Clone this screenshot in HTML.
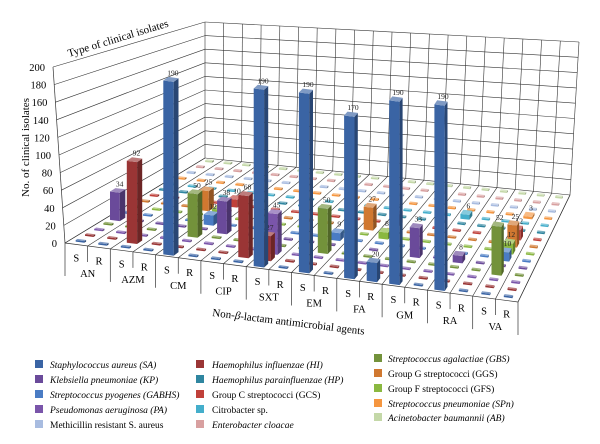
<!DOCTYPE html>
<html><head><meta charset="utf-8"><style>
body{margin:0;background:#fff;}
svg{display:block;font-family:"Liberation Serif",serif;}
</style></head><body>
<svg id="chart" width="600" height="444" viewBox="0 0 600 444" xmlns="http://www.w3.org/2000/svg">
<g id="walls"></g>
<g id="bars"></g>
<g id="labels"></g>
<text font-size="11" transform="translate(29,197) rotate(-90)">No. of clinical isolates</text>
<text font-size="11" transform="translate(69,57) rotate(-17)">Type of clinical isolates</text>
<text font-size="11" transform="translate(212,316) rotate(7)">Non-<tspan font-style="italic">β</tspan>-lactam antimicrobial agents</text>
<g id="legend"></g>
</svg>
<script>
const agents=["AN","AZM","CM","CIP","SXT","EM","FA","GM","RA","VA"];
const yTicks=[0,20,40,60,80,100,120,140,160,180,200];
// series in depth order (front -> back)
const seriesNames=["SA","HI","PA","GBS","KP","GABHS","GFS","GGS","GCS","HP","Citro","SPn","MRSA","Entero","AB"];
const seriesColors=["#3a64a4","#9a3535","#7a55aa","#73923b","#6a4a9a","#4a7cc4","#8ab840","#d07830","#c0403a","#2f86a0","#44aecb","#f59640","#a8bce0","#d8a0a0","#c4d8a8"];
// columns: AN S,AN R,AZM S,AZM R,CM S,CM R,CIP S,CIP R,SXT S,SXT R,EM S,EM R,FA S,FA R,GM S,GM R,RA S,RA R,VA S,VA R
const valSA=[0,0,0,0,190,0,0,0,190,0,190,0,170,20,190,0,190,0,0,0];
const valHI=[0,0,92,0,0,0,0,68,27,0,0,0,0,0,0,0,0,0,0,0];
const valPA=[0,0,0,0,0,0,0,0,45,0,0,0,0,0,0,0,0,0,0,0];
const valGBS=[0,0,0,0,50,0,0,0,0,0,50,0,0,0,0,0,0,0,52,0];
const valKP=[34,0,0,0,0,38,0,0,0,0,0,0,0,0,33,0,8,0,0,0];
const valGABHS=[0,0,0,0,12,0,0,0,0,0,9,0,0,0,0,0,0,0,10,0];
const valGFS=[0,0,0,0,12,0,0,0,0,0,0,0,8,0,0,0,0,0,12,0];
const valGGS=[0,0,0,25,0,0,0,0,0,0,0,27,0,0,0,0,0,0,25,0];
const valGCS=[0,0,0,0,10,0,0,0,0,0,0,0,14,0,0,0,0,0,12,0];
const valHP=[0,0,0,0,0,0,0,0,0,0,0,0,0,0,0,0,0,0,0,0];
const valCitro=[0,0,0,0,0,0,0,0,0,0,0,0,0,0,0,6,0,0,0,0];
const valSPn=[0,0,0,0,0,0,0,0,0,0,0,0,0,0,0,0,0,0,3,0];
const valMRSA=[0,0,0,0,0,0,0,0,0,0,0,0,0,0,0,0,0,0,0,0];
const valEntero=[0,0,0,0,0,0,0,0,0,0,0,0,0,0,0,0,0,0,0,0];
const valAB=[0,0,0,0,0,0,0,0,0,0,0,0,0,0,0,0,0,0,0,0];
const allVals=[valSA,valHI,valPA,valGBS,valKP,valGABHS,valGFS,valGGS,valGCS,valHP,valCitro,valSPn,valMRSA,valEntero,valAB];
const legendNames=[["Staphylococcus aureus (SA)",0,1],["Klebsiella pneumoniae (KP)",4,1],["Streptococcus pyogenes (GABHS)",5,1],["Pseudomonas aeruginosa (PA)",2,1],["Methicillin resistant S. aureus",12,0],
["Haemophilus influenzae (HI)",1,1],["Haemophilus parainfluenzae (HP)",9,1],["Group C streptococci (GCS)",8,0],["Citrobacter sp.",10,0],["Enterobacter cloacae",13,1],
["Streptococcus agalactiae (GBS)",3,1],["Group G streptococci (GGS)",7,0],["Group F streptococci (GFS)",6,0],["Streptococcus pneumoniae (SPn)",11,1],["Acinetobacter baumannii (AB)",14,1]];

const NS="http://www.w3.org/2000/svg";
const NC=20,NK=15;
function P(u,w){const fx=65+453*u,fy=243+59*u,bx=205+365*u,by=158+37*u;return [fx+(bx-fx)*w,fy+(by-fy)*w];}
function hs(u,w){return (0.9+0.1*u)*(1-w)+(0.68+0.09*u)*w;}
function el(t,a,p){const e=document.createElementNS(NS,t);for(const k in a)e.setAttribute(k,a[k]);p.appendChild(e);return e;}
function pts(a){return a.map(p=>p[0].toFixed(1)+","+p[1].toFixed(1)).join(" ");}
function shade(hex,f){const n=parseInt(hex.slice(1),16);let r=n>>16,g=(n>>8)&255,b=n&255;
 const m=c=>Math.max(0,Math.min(255,Math.round(f>1?c+(255-c)*(f-1):c*f)));return "rgb("+m(r)+","+m(g)+","+m(b)+")";}
const walls=document.getElementById('walls');
const gs="#333";
yTicks.forEach(t=>{
 const fl=[65-12*t/200,243-176*t/200], bl=[205,158-136*t/200], br=[570+9*t/200,195-153*t/200];
 const l=el('line',{x1:fl[0],y1:fl[1],x2:bl[0],y2:bl[1],stroke:gs,'stroke-width':0.6},walls);
 
 const l2=el('line',{x1:bl[0],y1:bl[1],x2:br[0],y2:br[1],stroke:gs,'stroke-width':0.6},walls);
 
});
el('line',{x1:65,y1:243,x2:53,y2:67,stroke:gs,'stroke-width':0.7},walls);
for(let c=0;c<=NC;c++){const u=c/NC;const b=P(u,1);
 const l=el('line',{x1:b[0],y1:b[1],x2:205+374*u,y2:22+20*u,stroke:gs,'stroke-width':0.6},walls);
 
 const f=P(u,0);
 const l2=el('line',{x1:f[0],y1:f[1],x2:b[0],y2:b[1],stroke:gs,'stroke-width':0.6},walls);
 
 const long=(c%2==0);
 const l3=el('line',{x1:f[0],y1:f[1],x2:f[0],y2:f[1]+(long?33:16),stroke:gs,'stroke-width':0.7},walls);
 
}
el('line',{x1:65,y1:243,x2:518,y2:302,stroke:gs,'stroke-width':0.7},walls);
el('line',{x1:518,y1:302,x2:570,y2:195,stroke:gs,'stroke-width':0.7},walls);
const bars=document.getElementById('bars');
for(let k=NK-1;k>=0;k--){
 const vals=allVals[k],col=seriesColors[k];
 for(let c=0;c<NC;c++){
  const v=vals[c];const u=(c+0.5)/NC,w=(k+0.5)/NK;
  const g=el('g',{},bars);
  
  
  const du=(v>0?0.23:0.19)/NC, dw=(v>0?0.3:0.1)/NK;
  const h=v>0?v*hs(u,w):1.6;
  const a=P(u-du,w-dw),b=P(u+du,w-dw),cc=P(u+du,w+dw),d=P(u-du,w+dw);
  const up=p=>[p[0],p[1]-h];
  el('polygon',{points:pts([a,b,up(b),up(a)]),fill:col},g);
  el('polygon',{points:pts([b,cc,up(cc),up(b)]),fill:shade(col,0.7)},g);
  el('polygon',{points:pts([up(a),up(b),up(cc),up(d)]),fill:shade(col,1.35)},g);
  if(v>0){const t=up(P(u,w));
   const tx=el('text',{x:t[0]+2,y:t[1]-4,'font-size':7.5,'text-anchor':'middle',fill:'#222'},g);tx.textContent=v;}
 }
}
const lab=document.getElementById('labels');
yTicks.forEach(t=>{const tx=el('text',{x:65-12*t/200-8,y:243-176*t/200+4,'font-size':10.5,'text-anchor':'end'},lab);tx.textContent=t;
 });
for(let c=0;c<NC;c++){const f=P((c+0.5)/NC,0);
 const tx=el('text',{x:f[0],y:f[1]+17,'font-size':10.5,'text-anchor':'middle'},lab);tx.textContent=(c%2==0?"S":"R");
 }
agents.forEach((a,i)=>{const f=P((2*i+1)/NC,0);
 const tx=el('text',{x:f[0],y:f[1]+31,'font-size':10.5,'text-anchor':'middle'},lab);tx.textContent=a;
 });
const leg=document.getElementById('legend');
const colX=[[35,50],[196,212],[374,388]],rowY=[[368,383,398,413,428],[368,383,398,413,428],[362,377,392,407,421]];
legendNames.forEach((L,i)=>{const ci=Math.floor(i/5),ri=i%5;const x=colX[ci],y=rowY[ci][ri];
 const g=el('g',{},leg);
 el('rect',{x:x[0],y:y-8,width:8,height:8,fill:seriesColors[L[1]]},g);
 const tx=el('text',{x:x[1],y:y,'font-size':9.5,'font-style':L[2]?'italic':'normal'},g);tx.textContent=L[0];});
</script>
</body></html>
